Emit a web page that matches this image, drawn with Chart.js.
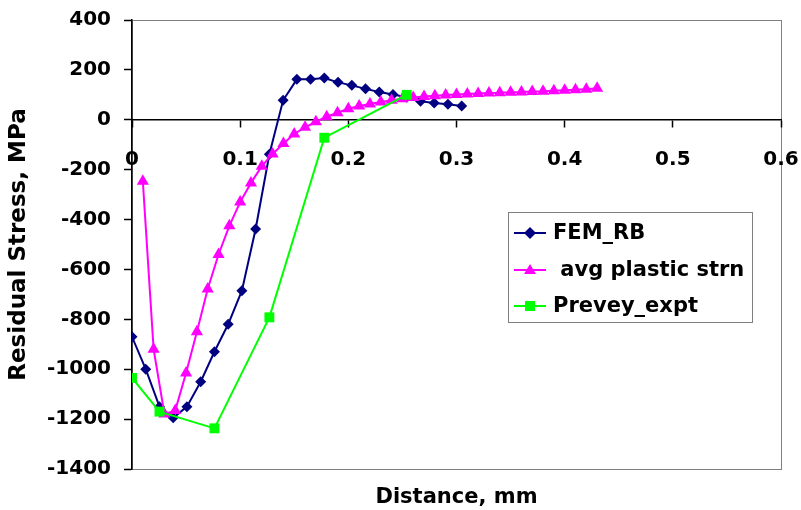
<!DOCTYPE html>
<html>
<head>
<meta charset="utf-8">
<script src="https://cdn.jsdelivr.net/npm/chart.js@4/dist/chart.umd.min.js"></script>
<style>
  html, body { margin: 0; padding: 0; background: #fff; }
  #wrap { width: 801px; height: 510px; }
</style>
</head>
<body>
<div id="wrap"><canvas id="stress"></canvas></div>
<script>
// x axis ticks and labels
var xTicks = [0, 0.1, 0.2, 0.3, 0.4, 0.5, 0.6];
var xTickLabels = ['0', '0.1', '0.2', '0.3', '0.4', '0.5', '0.6'];
// y axis ticks and labels
var yTicks = [400, 200, 0, -200, -400, -600, -800, -1000, -1200, -1400];
var yTickLabels = ['400', '200', '0', '-200', '-400', '-600', '-800', '-1000', '-1200', '-1400'];

var seriesNames = ['FEM_RB', ' avg plastic strn', 'Prevey_expt'];

// FEM_RB
var femX = [0, 0.0127, 0.0254, 0.0381, 0.0508, 0.0635, 0.0762, 0.0889, 0.1016, 0.1143,
            0.127, 0.1397, 0.1524, 0.1651, 0.1778, 0.1905, 0.2032, 0.2159, 0.2286, 0.2413,
            0.254, 0.2667, 0.2794, 0.2921, 0.3048];
var femY = [-870, -1000, -1150, -1195, -1150, -1050, -930, -820, -685, -438,
            -138, 78, 162, 162, 167, 150, 138, 124, 111, 101,
            90, 74, 67, 62, 55];

// avg plastic strn
var strnX = [0.01, 0.02, 0.03, 0.04, 0.05, 0.06, 0.07, 0.08, 0.09, 0.10,
             0.11, 0.12, 0.13, 0.14, 0.15, 0.16, 0.17, 0.18, 0.19, 0.20,
             0.21, 0.22, 0.23, 0.24, 0.25, 0.26, 0.27, 0.28, 0.29, 0.30,
             0.31, 0.32, 0.33, 0.34, 0.35, 0.36, 0.37, 0.38, 0.39, 0.40,
             0.41, 0.42, 0.43];
var strnY = [-246, -920, -1180, -1165, -1015, -850, -678, -540, -425, -330,
             -253, -186, -137, -95, -57, -30, -8, 12, 28, 44,
             55, 63, 71, 78, 84, 89, 93, 96, 99, 101,
             103, 105, 107, 108, 110, 111, 113, 114, 116, 118,
             120, 122, 126];

// Prevey_expt
var expX = [0, 0.0254, 0.0762, 0.127, 0.1778, 0.254];
var expY = [-1035, -1170, -1237, -792, -72, 100];

function pts(xs, ys) {
    return xs.map(function (x, i) { return { x: x, y: ys[i] }; });
}

var tickFont = { family: 'DejaVu Sans', size: 20, weight: 'bold' };

function noPad(s) {
    s.paddingLeft = 0; s.paddingRight = 0;
    s.paddingTop = 0; s.paddingBottom = 0;
}

// white background + grey plot frame
var framePlugin = {
    id: 'frame',
    beforeDraw: function (chart) {
        var ctx = chart.ctx, a = chart.chartArea;
        ctx.save();
        ctx.fillStyle = '#fff';
        ctx.fillRect(0, 0, chart.width, chart.height);
        ctx.strokeStyle = '#808080';
        ctx.lineWidth = 1;
        ctx.strokeRect(a.left + 0.5, a.top + 0.5, a.right - a.left, a.bottom - a.top);
        ctx.restore();
    }
};

// boxed legend inside the plot, like the original
var boxLegend = {
    id: 'boxLegend',
    afterDraw: function (chart) {
        var ctx = chart.ctx;
        var bx = 508, by = 212, bw = 244, bh = 110;
        ctx.save();
        ctx.fillStyle = '#fff';
        ctx.fillRect(bx, by, bw, bh);
        ctx.strokeStyle = '#808080';
        ctx.lineWidth = 1;
        ctx.strokeRect(bx + 0.5, by + 0.5, bw, bh);
        var rows = [233, 270, 306];
        chart.data.datasets.forEach(function (ds, i) {
            var y = rows[i];
            ctx.strokeStyle = ds.borderColor;
            ctx.lineWidth = 2;
            ctx.beginPath();
            ctx.moveTo(514, y);
            ctx.lineTo(546, y);
            ctx.stroke();
            ctx.fillStyle = ds.backgroundColor;
            ctx.beginPath();
            if (ds.pointStyle === 'rectRot') {
                ctx.moveTo(530 - 6, y); ctx.lineTo(530, y - 6);
                ctx.lineTo(530 + 6, y); ctx.lineTo(530, y + 6);
            } else if (ds.pointStyle === 'triangle') {
                ctx.moveTo(530, y - 6); ctx.lineTo(536, y + 4); ctx.lineTo(524, y + 4);
            } else {
                ctx.rect(525, y - 5, 10, 10);
            }
            ctx.closePath();
            ctx.fill();
            ctx.fillStyle = '#000';
            ctx.font = 'bold 21px "DejaVu Sans"';
            ctx.textBaseline = 'middle';
            ctx.textAlign = 'left';
            ctx.fillText(ds.label, 553, y + 1);
        });
        ctx.restore();
    }
};

var chart = new Chart(document.getElementById('stress'), {
    type: 'scatter',
    data: {
        datasets: [{
            label: seriesNames[0],
            data: pts(femX, femY),
            showLine: true,
            borderColor: '#000080',
            backgroundColor: '#000080',
            borderWidth: 2,
            pointStyle: 'rectRot',
            pointRadius: 5.5,
            pointBorderWidth: 0,
            order: 3
        }, {
            label: seriesNames[1],
            data: pts(strnX, strnY),
            showLine: true,
            borderColor: '#ff00ff',
            backgroundColor: '#ff00ff',
            borderWidth: 2,
            pointStyle: 'triangle',
            pointRadius: 7,
            pointBorderWidth: 0,
            order: 2
        }, {
            label: seriesNames[2],
            data: pts(expX, expY),
            showLine: true,
            borderColor: '#00ff00',
            backgroundColor: '#00ff00',
            borderWidth: 2,
            pointStyle: 'rect',
            pointRadius: 7,
            pointBorderWidth: 0,
            order: 1
        }]
    },
    options: {
        responsive: true,
        maintainAspectRatio: false,
        animation: false,
        layout: { padding: { top: 20, right: 20, left: 0, bottom: 0 } },
        plugins: {
            legend: { display: false },
            tooltip: { enabled: false }
        },
        scales: {
            x: {
                type: 'linear',
                min: 0,
                max: 0.6,
                position: { y: 0 },
                afterBuildTicks: function (s) { s.ticks = xTicks.map(function (v) { return { value: v }; }); },
                afterFit: noPad,
                ticks: {
                    color: '#000',
                    font: tickFont,
                    padding: 21,
                    maxRotation: 0,
                    autoSkip: false,
                    callback: function (v, i) { return xTickLabels[i]; }
                },
                grid: { drawOnChartArea: false, drawTicks: true, tickLength: 7, color: '#000', tickWidth: 1.5 },
                border: { color: '#000', width: 1.5 }
            },
            xb: {
                type: 'linear',
                min: 0,
                max: 0.6,
                position: 'bottom',
                ticks: { display: false },
                grid: { display: false },
                border: { display: false },
                title: {
                    display: true,
                    text: 'Distance, mm',
                    color: '#000',
                    font: { family: 'DejaVu Sans', size: 21, weight: 'bold' },
                    padding: { top: 11, bottom: 0 }
                },
                afterFit: function (s) { noPad(s); s.height = 41; }
            },
            y: {
                type: 'linear',
                min: -1400,
                max: 400,
                position: 'left',
                afterBuildTicks: function (s) { s.ticks = yTicks.map(function (v) { return { value: v }; }); },
                ticks: {
                    color: '#000',
                    font: tickFont,
                    padding: 13,
                    callback: function (v, i) { return yTickLabels[i]; }
                },
                grid: { drawOnChartArea: false, drawTicks: true, tickLength: 8, color: '#000', tickWidth: 1.5 },
                border: { color: '#000', width: 1.5 },
                title: {
                    display: true,
                    text: 'Residual Stress, MPa',
                    color: '#000',
                    font: { family: 'DejaVu Sans', size: 23, weight: 'bold' },
                    padding: { top: 5, bottom: 0 }
                },
                afterFit: function (s) { noPad(s); s.width = 132; }
            }
        }
    },
    plugins: [framePlugin, boxLegend]
});
</script>
</body>
</html>
